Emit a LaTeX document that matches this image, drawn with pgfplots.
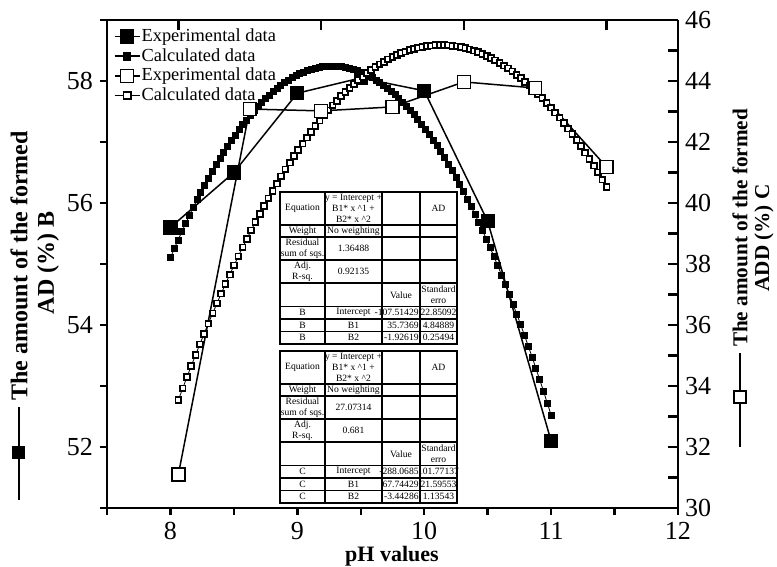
\documentclass[border=0pt]{standalone}
\usepackage{pgfplots}
\pgfplotsset{compat=1.18}
\usepackage{fontspec}
\setmainfont{Liberation Serif}

% fitted-parameter table drawn in pixel-like units (y grows downward)
\newcommand{\fittable}[9]{%
  \fill[white] (280,0) rectangle (457,152);
  \foreach \yy in {33,45,68,91,114.5,127,139.5}
    \draw[line width=0.8pt] (280,\yy) -- (457,\yy);
  \foreach \xx in {325,382,420}
    \draw[line width=0.8pt] (\xx,0) -- (\xx,152);
  \draw[line width=0.8pt] (280,0) rectangle (457,152);
  \begin{scope}[every node/.style={font=\fontsize{4.8}{5.6}\selectfont, inner sep=0pt, align=center}]
    \node at (302.5,16.5) {Equation};
    \node at (353.5,16.5) {y = Intercept +\\ B1* x \textasciicircum1 +\\ B2* x \textasciicircum2};
    \node at (438.5,16.5) {AD};
    \node at (302.5,39) {Weight};
    \node at (353.5,39) {No weighting};
    \node at (302.5,56.5) {Residual\\ sum of sqs.};
    \node at (353.5,56.5) {#1};
    \node at (302.5,79.5) {Adj.\\ R-sq.};
    \node at (353.5,79.5) {#2};
    \node at (401,102.75) {Value};
    \node at (438.5,102.75) {Standard\\ erro};
    \node at (302.5,120.75) {#3};
    \node at (302.5,133.25) {#3};
    \node at (302.5,145.75) {#3};
    \node at (353.5,120.75) {Intercept};
    \node at (353.5,133.25) {B1};
    \node at (353.5,145.75) {B2};
    \node[anchor=east] at (419,120.75) {#4};
    \node[anchor=east] at (419,133.25) {#6};
    \node[anchor=east] at (419,145.75) {#8};
    \node at (438.5,120.75) {#5};
    \node at (438.5,133.25) {#7};
    \node at (438.5,145.75) {#9};
  \end{scope}
}

\begin{document}
\begin{tikzpicture}
% ---------------- layer B (left axis) ----------------
\begin{axis}[
  name=axB, at={(0,0)}, anchor=south west,
  scale only axis, width=285.5pt, height=244pt,
  xmin=7.5, xmax=12, ymin=51, ymax=59,
  axis x line*=bottom, axis y line*=left,
  axis line style={-, line width=1.2pt},
  xtick={8,9,10,11,12}, minor xtick={7.5,8.5,9.5,10.5,11.5},
  ytick={52,54,56,58}, minor ytick={51,53,55,57,59},
  tick align=outside,
  major tick length=3.5pt, minor tick length=3.5pt,
  every tick/.style={black, line width=1.2pt},
  ticklabel style={font=\fontsize{13}{13}\selectfont},
  /pgf/number format/assume math mode=true,
]
% calculated data (fit), B
\addplot[black, line width=0.4pt, mark=square*, mark size=1.5pt] coordinates {
(8.00,55.105) (8.03,55.251) (8.06,55.393) (8.09,55.532) (8.12,55.667)
(8.15,55.799) (8.18,55.928) (8.21,56.053) (8.24,56.174) (8.27,56.292)
(8.30,56.407) (8.33,56.518) (8.36,56.626) (8.39,56.730) (8.42,56.830)
(8.45,56.928) (8.48,57.022) (8.51,57.112) (8.54,57.199) (8.57,57.282)
(8.60,57.362) (8.63,57.439) (8.66,57.512) (8.69,57.581) (8.72,57.647)
(8.75,57.710) (8.78,57.769) (8.81,57.824) (8.84,57.877) (8.87,57.925)
(8.90,57.971) (8.93,58.012) (8.96,58.051) (8.99,58.086) (9.02,58.117)
(9.05,58.145) (9.08,58.169) (9.11,58.190) (9.14,58.208) (9.17,58.222)
(9.20,58.232) (9.23,58.240) (9.26,58.243) (9.29,58.243) (9.32,58.240)
(9.35,58.233) (9.38,58.223) (9.41,58.210) (9.44,58.192) (9.47,58.172)
(9.50,58.148) (9.53,58.120) (9.56,58.089) (9.59,58.055) (9.62,58.017)
(9.65,57.975) (9.68,57.930) (9.71,57.882) (9.74,57.830) (9.77,57.775)
(9.80,57.716) (9.83,57.654) (9.86,57.588) (9.89,57.519) (9.92,57.446)
(9.95,57.370) (9.98,57.291) (10.01,57.208) (10.04,57.121) (10.07,57.031)
(10.10,56.938) (10.13,56.841) (10.16,56.741) (10.19,56.637) (10.22,56.529)
(10.25,56.419) (10.28,56.304) (10.31,56.187) (10.34,56.066) (10.37,55.941)
(10.40,55.813) (10.43,55.681) (10.46,55.546) (10.49,55.408) (10.52,55.266)
(10.55,55.120) (10.58,54.971) (10.61,54.819) (10.64,54.663) (10.67,54.504)
(10.70,54.341) (10.73,54.175) (10.76,54.005) (10.79,53.832) (10.82,53.655)
(10.85,53.475) (10.88,53.292) (10.91,53.105) (10.94,52.914) (10.97,52.720)
(11.00,52.523)
};
% experimental data, B
\addplot[black, line width=0.75pt, mark=square*, mark size=3.2pt] coordinates {
(8,55.6) (8.5,56.5) (9,57.8) (9.5,58.05) (10,57.84) (10.5,55.7) (11,52.1)
};
\end{axis}

% ---------------- layer C (right axis) ----------------
\begin{axis}[
  name=axC, at={(0,0)}, anchor=south west,
  scale only axis, width=285.5pt, height=244pt,
  xmin=7.5, xmax=11.5, ymin=30, ymax=46,
  axis x line*=top, axis y line*=right,
  axis line style={-, line width=1.2pt},
  xtick={8,9,10,11}, xticklabels={},
  ytick={30,32,...,46}, minor ytick={31,33,...,45},
  tick align=inside,
  major tick length=5pt, minor tick length=5pt,
  every tick/.style={black, line width=1.2pt},
  ticklabel style={font=\fontsize{13}{13}\selectfont},
  /pgf/number format/assume math mode=true,
  legend image code/.code={%
    \draw[mark repeat=2, mark phase=2, #1]
      plot coordinates {(0cm,0cm) (0.22cm,0cm) (0.44cm,0cm)};},
  legend style={draw=none, fill=none, inner sep=0pt, outer sep=0pt,
    at={(0.012,0.985)}, anchor=north west,
    font=\fontsize{9.2}{9.2}\selectfont, row sep=0.8pt,
    nodes={inner sep=0.6pt}},
  legend cell align=left,
]
\addlegendimage{black, line width=0.75pt, mark=square*, mark size=3.2pt}
\addlegendentry{Experimental data}
\addlegendimage{black, line width=0.75pt, mark=square*, mark size=1.8pt}
\addlegendentry{Calculated data}
\addlegendimage{black, line width=0.75pt, mark=square*, mark size=3.2pt, mark options={fill=white}}
\addlegendentry{Experimental data}
\addlegendimage{black, line width=0.75pt, mark=square*, mark size=1.8pt, mark options={fill=white, line width=0.9pt}}
\addlegendentry{Calculated data}
% calculated data (fit), C
\addplot[black, line width=0.4pt, mark=square*, mark size=1.45pt, mark options={fill=white, line width=0.9pt}, forget plot] coordinates {
(8.00,33.543) (8.03,33.919) (8.06,34.290) (8.09,34.654) (8.12,35.012)
(8.15,35.364) (8.18,35.710) (8.21,36.049) (8.24,36.382) (8.27,36.710)
(8.30,37.030) (8.33,37.345) (8.36,37.654) (8.39,37.956) (8.42,38.252)
(8.45,38.542) (8.48,38.826) (8.51,39.103) (8.54,39.374) (8.57,39.640)
(8.60,39.898) (8.63,40.151) (8.66,40.398) (8.69,40.638) (8.72,40.872)
(8.75,41.100) (8.78,41.322) (8.81,41.537) (8.84,41.747) (8.87,41.950)
(8.90,42.147) (8.93,42.337) (8.96,42.522) (8.99,42.700) (9.02,42.872)
(9.05,43.038) (9.08,43.198) (9.11,43.352) (9.14,43.499) (9.17,43.640)
(9.20,43.775) (9.23,43.904) (9.26,44.027) (9.29,44.143) (9.32,44.253)
(9.35,44.357) (9.38,44.455) (9.41,44.547) (9.44,44.632) (9.47,44.711)
(9.50,44.784) (9.53,44.851) (9.56,44.912) (9.59,44.966) (9.62,45.014)
(9.65,45.056) (9.68,45.092) (9.71,45.122) (9.74,45.145) (9.77,45.162)
(9.80,45.173) (9.83,45.178) (9.86,45.177) (9.89,45.169) (9.92,45.155)
(9.95,45.135) (9.98,45.109) (10.01,45.077) (10.04,45.038) (10.07,44.994)
(10.10,44.943) (10.13,44.886) (10.16,44.822) (10.19,44.753) (10.22,44.677)
(10.25,44.595) (10.28,44.507) (10.31,44.413) (10.34,44.312) (10.37,44.205)
(10.40,44.092) (10.43,43.973) (10.46,43.848) (10.49,43.716) (10.52,43.579)
(10.55,43.435) (10.58,43.285) (10.61,43.128) (10.64,42.966) (10.67,42.797)
(10.70,42.622) (10.73,42.441) (10.76,42.254) (10.79,42.061) (10.82,41.861)
(10.85,41.655) (10.88,41.443) (10.91,41.225) (10.94,41.000) (10.97,40.770)
(11.00,40.533)
};
% experimental data, C
\addplot[black, line width=0.75pt, mark=square*, mark size=3.2pt, mark options={fill=white}, forget plot] coordinates {
(8,31.1) (8.5,43.08) (9,43.02) (9.5,43.15) (10,43.97) (10.5,43.77) (11,41.18)
};
\end{axis}

% ---------------- labels and fit tables ----------------
\begin{scope}[x=0.5pt, y=-0.5pt, shift={(-53.5pt,254pt)}]
  % x label
  \node[font=\bfseries\fontsize{11}{11}\selectfont] at (392,556) {pH values};
  % left axis title with series symbol
  \node[rotate=90, font=\bfseries\fontsize{12}{12}\selectfont, inner sep=0pt] at (19,266) {The amount of the formed};
  \node[rotate=90, font=\bfseries\fontsize{12}{12}\selectfont, inner sep=0pt] at (48,263) {AD (\%) B};
  \draw[line width=0.75pt] (19,500) -- (19,407);
  \fill[black] (12.5,446.5) rectangle (25.5,459.5);
  % right axis title with series symbol
  \node[rotate=90, font=\bfseries\fontsize{10.6}{10.6}\selectfont, inner sep=0pt] at (740,228) {The amount of the formed};
  \node[rotate=90, font=\bfseries\fontsize{10.6}{10.6}\selectfont, inner sep=0pt] at (764,238) {ADD (\%) C};
  \draw[line width=0.75pt] (740,447) -- (740,353);
  \draw[line width=0.75pt, fill=white] (734,391) rectangle (746,403);
  % fit tables
  \begin{scope}[yshift=-96pt]
    \fittable{1.36488}{0.92135}{B}{-107.51429}{22.85092}{35.7369}{4.84889}{-1.92619}{0.25494}
  \end{scope}
  \begin{scope}[yshift=-175.5pt]
    \fittable{27.07314}{0.681}{C}{-288.0685}{101.77137}{67.74429}{21.59553}{-3.44286}{1.13543}
  \end{scope}
  % page frame
  \pgfresetboundingbox
  \path[use as bounding box] (0,0) rectangle (777,567);
\end{scope}
\end{tikzpicture}
\end{document}
